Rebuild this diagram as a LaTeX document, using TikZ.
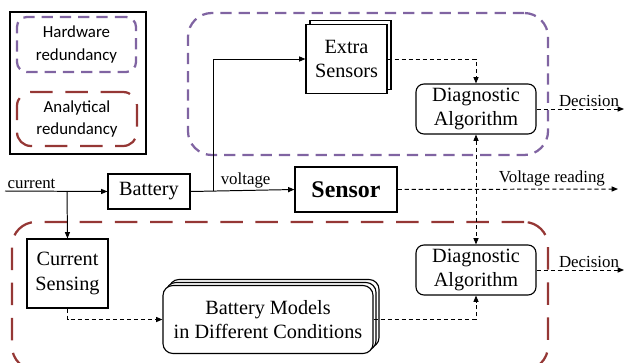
\documentclass[tikz,border=0pt]{standalone}
\usepackage{fontspec}
\setmainfont{Liberation Serif}[Ligatures={TeX,NoCommon}]
\newfontfamily\keyfont{Carlito}
\usepackage{tikz}
\usetikzlibrary{arrows.meta,shadows}
\definecolor{hwPurple}{HTML}{8064A2}
\definecolor{anRed}{HTML}{953735}

\begin{document}
\begin{tikzpicture}[x=0.025cm, y=-0.025cm, line width=0.7pt,
  blk/.style={draw, line width=0.8pt, fill=white, align=center, inner sep=1pt, font=\rmfamily\fontsize{14.4}{17.5}\selectfont},
  algo/.style={blk, rounded corners=0.2cm, minimum width=3cm, minimum height=1.25cm},
  lbl/.style={font=\rmfamily\fontsize{12}{14}\selectfont, inner sep=1.5pt},
  keytxt/.style={align=center, font=\keyfont\fontsize{12}{16}\selectfont},
  hwzone/.style={draw=hwPurple, line width=1.6pt, dash pattern=on 8pt off 5pt, rounded corners=0.6cm},
  anzone/.style={draw=anRed, line width=1.6pt, dash pattern=on 16pt off 9pt, rounded corners=0.6cm},
  sig/.style={-{Triangle[length=4.5pt,width=3.6pt]}},
  dsig/.style={sig, dash pattern=on 3pt off 2pt}]
\useasboundingbox (0,0) rectangle (625,362);

% legend
\node[draw, line width=0.8pt, minimum width=3.4cm, minimum height=3.55cm] (legend) at (78,83) {};
\node[hwzone, keytxt, rounded corners=0.25cm, minimum width=2.975cm, minimum height=1.375cm] (hwkey) at (76.5,44.5) {Hardware\\redundancy};
\node[anzone, keytxt, rounded corners=0.35cm, minimum width=3cm, minimum height=1.35cm] (ankey) at (77,119) {Analytical\\redundancy};

% redundancy areas
\node[hwzone, minimum width=9cm, minimum height=3.55cm] (hwarea) at (368,84) {};
\node[anzone, minimum width=13.4cm, minimum height=3.7cm] (anarea) at (280,296) {};

% blocks
\node[blk, minimum width=2.05cm, minimum height=0.875cm] (battery) at (149,191.5) {Battery};
\node[blk, minimum width=2.55cm, minimum height=1.125cm, font=\rmfamily\fontsize{17}{20}\selectfont\bfseries] (sensor) at (346,189.5) {Sensor};
\node[blk, minimum width=2.025cm, minimum height=1.725cm, copy shadow={shadow xshift=0.1cm, shadow yshift=0.1cm, draw, fill=white}] (extra) at (346.5,59) {Extra\\Sensors};
\node[blk, minimum width=2.025cm, minimum height=1.725cm] (cursens) at (67.5,273.5) {Current\\Sensing};
\node[blk, rounded corners=0.25cm, minimum width=5.25cm, minimum height=1.7cm,
  double copy shadow={shadow xshift=0.075cm, shadow yshift=0.075cm, draw, fill=white}] (models) at (268,319.5) {Battery Models\\in Dif{}ferent Conditions};
\node[algo] (diagtop) at (476,109) {Diagnostic\\Algorithm};
\node[algo] (diagbot) at (476,270) {Diagnostic\\Algorithm};

% free ends
\coordinate (cin) at (5,191);
\coordinate (brc) at (67,191);
\coordinate (vbr) at (213,191);
\coordinate (vout) at (618,189);
\coordinate (dtopout) at (624,109);
\coordinate (dbotout) at (624,270);

% connectors
\draw[sig] (cin) -- (battery.west);
\node[lbl, anchor=south west] (curlbl) at (cin) {current};
\draw[sig] (brc) -- (cursens.north);
\draw[sig] (battery.east) -- node[lbl, above, pos=0.53] {voltage} (sensor.west);
\draw[sig] (vbr) |- (extra.west);
\draw[dsig] (extra.east) -| (diagtop.north);
\draw[dsig] (sensor.east) -- node[lbl, above, pos=0.7] {Voltage reading} (vout);
\draw[dsig] (diagtop.east) -- node[lbl, above, pos=0.6] {Decision} (dtopout);
\draw[dsig, {Triangle[length=4.5pt,width=3.6pt]}-{Triangle[length=4.5pt,width=3.6pt]}] (diagtop.south) -- (diagbot.north);
\draw[dsig] (cursens.south) |- (models.west);
\draw[dsig] (models.east) -| (diagbot.south);
\draw[dsig] (diagbot.east) -- node[lbl, above, pos=0.6] {Decision} (dbotout);
\end{tikzpicture}
\end{document}
